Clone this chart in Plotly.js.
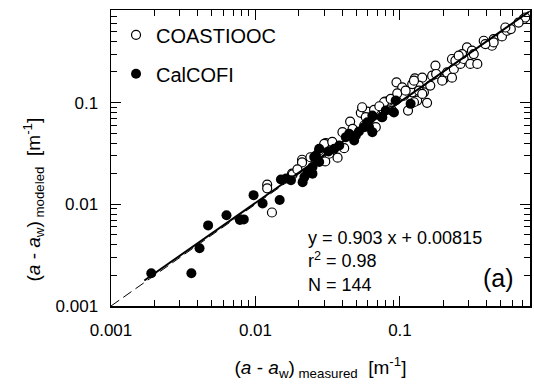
<!DOCTYPE html>
<html><head><meta charset="utf-8">
<script src="https://cdn.plot.ly/plotly-3.0.1.min.js"></script>
<style>html,body{margin:0;padding:0;background:#fff}#chart{width:534px;height:389px}</style>
</head><body><div id="chart"></div><script>
// COASTIOOC (open circles)
const coaX = [0.01205,0.01205,0.0130,0.0179,0.0210,0.0210,0.0276,0.0304,0.0307,0.0324,0.0370,0.0411,0.0400,0.0452,0.0536,0.0595,0.0621,0.0680,0.0680,0.0763,0.0788,0.0748,0.0565,0.1066,0.1216,0.1316,0.154,0.1137,0.0946,0.1268,0.1426,0.1352,0.1465,0.167,0.162,0.176,0.201,0.212,0.229,0.236,0.229,0.262,0.276,0.291,0.307,0.343,0.315,0.380,0.433,0.445,0.508,0.550,0.585,0.536,0.716,0.736,0.1037,0.084,0.1216,0.0662,0.0776,0.0863,0.0958,0.125,0.1352,0.178,0.242,0.269,0.324,0.662,0.445,0.0547,0.0881,0.1094,0.125,0.1426,0.196,0.255,0.390,0.0299,0.0181,0.0195,0.0240,0.0340,0.0470,0.0580,0.0720];
const coaY = [0.0156,0.01435,0.0083,0.0200,0.0274,0.0258,0.0338,0.0264,0.0399,0.0314,0.0287,0.0356,0.0512,0.0651,0.0793,0.0816,0.0692,0.0835,0.0573,0.0867,0.1020,0.0718,0.0595,0.117,0.126,0.1047,0.0993,0.0835,0.158,0.173,0.1755,0.147,0.126,0.184,0.147,0.231,0.171,0.198,0.1755,0.214,0.268,0.240,0.268,0.349,0.240,0.240,0.324,0.405,0.362,0.421,0.447,0.508,0.528,0.547,0.661,0.686,0.141,0.1047,0.152,0.0848,0.1007,0.1087,0.1233,0.1007,0.131,0.191,0.258,0.300,0.300,0.612,0.390,0.0899,0.0835,0.131,0.164,0.1217,0.164,0.289,0.376,0.0393,0.0197,0.0220,0.0290,0.0410,0.0550,0.0720,0.0920];
// CalCOFI (filled circles)
const calX = [0.0019,0.0036,0.0041,0.0047,0.0063,0.0078,0.0083,0.0097,0.0112,0.0147,0.0150,0.0176,0.0163,0.0212,0.0218,0.0230,0.0248,0.0248,0.0262,0.0276,0.0351,0.0380,0.0422,0.0482,0.0495,0.0565,0.0611,0.0595,0.0644,0.0755,0.0797,0.0934,0.0909,0.1185,0.0276,0.0255,0.0644,0.0445,0.0320,0.0520];
const calY = [0.0021,0.0021,0.0037,0.0062,0.0078,0.0070,0.0071,0.0123,0.0102,0.0110,0.0175,0.0172,0.0179,0.0165,0.0185,0.0207,0.0232,0.0200,0.0302,0.0260,0.0351,0.0379,0.0457,0.0424,0.0475,0.0573,0.0573,0.0641,0.0512,0.0718,0.0835,0.1047,0.0798,0.0971,0.0351,0.0291,0.0746,0.0493,0.0330,0.0520];
// 1:1 line and fitted line (end points)
const unityX = [0.001, 0.8];
const unityY = [0.001, 0.8];
const fitX = [0.0017, 0.78];
const fitY = [0.00178, 0.78];
const tickVals = [0.001, 0.01, 0.1];
const tickText = ['0.001', '0.01', '0.1'];
const statsText = ['y = 0.903 x + 0.00815', 'r<sup>2</sup> = 0.98', 'N = 144'];

const FONT = 'Liberation Sans, Arial, Helvetica, sans-serif';

const traces = [
  {x: coaX, y: coaY, type: 'scatter', mode: 'markers', name: 'COASTIOOC', legendgroup: 'a',
   marker: {symbol: 'circle', size: 9, color: '#ffffff', line: {color: '#000', width: 1.2}}},
  {x: calX, y: calY, type: 'scatter', mode: 'markers', name: 'CalCOFI', legendgroup: 'b',
   marker: {symbol: 'circle', size: 10, color: '#000000', line: {color: '#000', width: 0}}},
  {x: unityX, y: unityY, type: 'scatter', mode: 'lines', showlegend: false, hoverinfo: 'skip',
   line: {color: '#000', width: 1, dash: '10px,5px'}},
  {x: fitX, y: fitY, type: 'scatter', mode: 'lines', showlegend: false, hoverinfo: 'skip',
   line: {color: '#000', width: 2}}
];

const axisBase = {
  type: 'log', showgrid: false, zeroline: false,
  showline: true, linecolor: '#000', linewidth: 1.5, mirror: 'ticks',
  ticks: 'inside', ticklen: 10, tickwidth: 1, tickcolor: '#000',
  tickmode: 'array', tickvals: tickVals, ticktext: tickText,
  tickfont: {family: FONT, size: 17, color: '#000'},
  minor: {tickmode: 'linear', dtick: 'D1', ticks: 'inside', ticklen: 6, tickwidth: 1, tickcolor: '#000', showgrid: false},
  fixedrange: true
};

const layout = {
  width: 534, height: 389,
  margin: {l: 111, r: 4, t: 10, b: 83},
  paper_bgcolor: '#fff', plot_bgcolor: '#fff',
  font: {family: FONT, color: '#000'},
  showlegend: true,
  legend: {x: 0.012, y: 0.982, xanchor: 'left', yanchor: 'top', bgcolor: 'rgba(0,0,0,0)',
           font: {family: FONT, size: 20, color: '#000'}, traceorder: 'grouped', tracegroupgap: 10,
           itemsizing: 'trace'},
  xaxis: Object.assign({}, axisBase, {range: [-3, -0.1], ticklabelstandoff: 8,
    title: {text: '(<i>a</i> - <i>a</i><sub>w</sub>)<sub> measured</sub>  [m<sup>-1</sup>]',
            font: {family: FONT, size: 19, color: '#000'}, standoff: 22}}),
  yaxis: Object.assign({}, axisBase, {range: [-3, -0.09], ticklabelstandoff: 8,
    title: {text: ''}}),
  annotations: [
    {xref: 'paper', yref: 'paper', x: -0.186, y: 0.36, xanchor: 'center', yanchor: 'middle',
     textangle: -90, showarrow: false,
     text: '(<i>a</i> - <i>a</i><sub>w</sub>)<sub> modeled</sub>  [m<sup>-1</sup>]',
     font: {family: FONT, size: 19, color: '#000'}},
    {xref: 'paper', yref: 'paper', x: 0.466, y: 0.15, xanchor: 'left', yanchor: 'middle', align: 'left',
     showarrow: false, text: statsText.join('<br>'), font: {family: FONT, size: 18, color: '#000'}},
    {xref: 'paper', yref: 'paper', x: 0.924, y: 0.095, xanchor: 'center', yanchor: 'middle',
     showarrow: false, text: '(a)', font: {family: FONT, size: 25, color: '#000'}}
  ]
};

Plotly.newPlot('chart', traces, layout, {displayModeBar: false, staticPlot: true});
</script></body></html>
